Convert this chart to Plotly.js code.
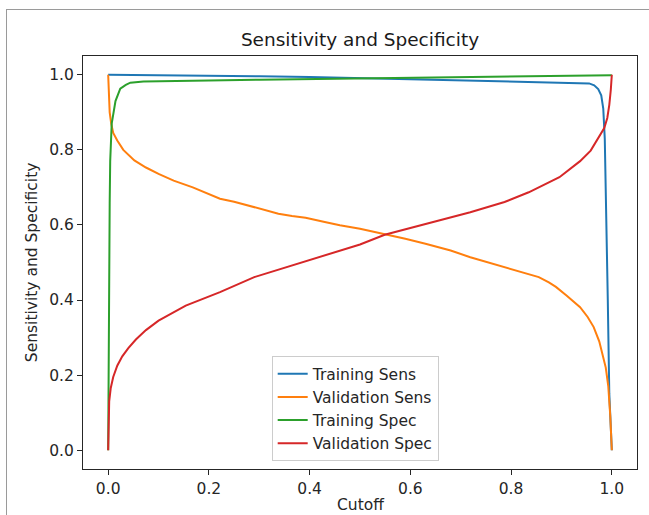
<!DOCTYPE html>
<html>
<head>
<meta charset="utf-8">
<script src="https://cdn.plot.ly/plotly-3.0.1.min.js"></script>
<style>
  html, body { margin: 0; padding: 0; background: #fff; }
  #wrap { position: relative; width: 649px; height: 515px; }
  #chart { width: 649px; height: 515px; }
  #frame { position: absolute; left: 6px; top: 9px; right: 0; bottom: 0;
           border-left: 1px solid #9a9a9a; border-top: 1px solid #9a9a9a;
           pointer-events: none; }
</style>
</head>
<body>
<div id="wrap"><div id="chart"></div><div id="frame"></div></div>
<script>
// Training sensitivity (blue)
const cutoffTrainSens = [0, 0.1, 0.2, 0.3, 0.4, 0.5, 0.6, 0.7, 0.8, 0.9, 0.94, 0.955, 0.965, 0.973, 0.979, 0.983, 0.986, 0.989, 0.992, 0.995, 1.0];
const trainSens       = [1.0, 0.999, 0.998, 0.996, 0.994, 0.991, 0.988, 0.985, 0.982, 0.980, 0.979, 0.977, 0.972, 0.962, 0.945, 0.91, 0.83, 0.65, 0.40, 0.15, 0.0];

// Validation sensitivity (orange)
const cutoffValSens = [0, 0.001, 0.003, 0.006, 0.01, 0.018, 0.03, 0.052, 0.075, 0.1, 0.13, 0.168, 0.2, 0.222, 0.25, 0.277, 0.31, 0.338, 0.365, 0.392, 0.43, 0.46, 0.5, 0.549, 0.59, 0.63, 0.68, 0.719, 0.75, 0.787, 0.82, 0.855, 0.875, 0.889, 0.91, 0.937, 0.952, 0.964, 0.975, 0.981, 0.988, 0.993, 0.997, 1.0];
const valSens       = [1.0, 0.95, 0.9, 0.87, 0.845, 0.825, 0.80, 0.772, 0.753, 0.736, 0.718, 0.70, 0.683, 0.670, 0.662, 0.652, 0.641, 0.630, 0.624, 0.619, 0.608, 0.599, 0.590, 0.576, 0.563, 0.550, 0.532, 0.514, 0.502, 0.487, 0.475, 0.461, 0.447, 0.435, 0.412, 0.381, 0.355, 0.328, 0.29, 0.257, 0.22, 0.17, 0.09, 0.0];

// Training specificity (green)
const cutoffTrainSpec = [0, 0.0005, 0.001, 0.0015, 0.002, 0.003, 0.004, 0.007, 0.0145, 0.024, 0.035, 0.044, 0.07, 0.1, 0.2, 0.3, 0.4, 0.5, 0.6, 0.7, 0.8, 0.9, 1.0];
const trainSpec       = [0, 0.2, 0.38, 0.5, 0.58, 0.66, 0.77, 0.87, 0.93, 0.963, 0.973, 0.979, 0.982, 0.983, 0.985, 0.987, 0.989, 0.991, 0.993, 0.995, 0.996, 0.997, 0.999];

// Validation specificity (red)
const cutoffValSpec = [0, 0.0007, 0.002, 0.005, 0.01, 0.018, 0.028, 0.04, 0.055, 0.075, 0.1, 0.154, 0.222, 0.29, 0.365, 0.447, 0.5, 0.549, 0.63, 0.719, 0.787, 0.835, 0.896, 0.937, 0.958, 0.977, 0.985, 0.991, 0.995, 0.998, 1.0];
const valSpec       = [0, 0.09, 0.13, 0.165, 0.195, 0.225, 0.25, 0.272, 0.295, 0.32, 0.345, 0.385, 0.421, 0.461, 0.492, 0.527, 0.548, 0.574, 0.603, 0.634, 0.661, 0.687, 0.727, 0.770, 0.798, 0.838, 0.858, 0.885, 0.92, 0.96, 1.0];

const seriesNames = ["Training Sens", "Validation Sens", "Training Spec", "Validation Spec"];
const tickVals = [0, 0.2, 0.4, 0.6, 0.8, 1.0];

const colors = ["#1f77b4", "#ff7f0e", "#2ca02c", "#d62728"];
const xs = [cutoffTrainSens, cutoffValSens, cutoffTrainSpec, cutoffValSpec];
const ys = [trainSens, valSens, trainSpec, valSpec];

const traces = seriesNames.map((n, i) => ({
  x: xs[i], y: ys[i], name: n, type: "scatter", mode: "lines",
  line: { color: colors[i], width: 2 }
}));

const fontFam = "DejaVu Sans, sans-serif";
const fs = 15.5;
const axisCommon = {
  showline: true, mirror: true, linecolor: "#262626", linewidth: 1,
  showgrid: false, zeroline: false,
  ticks: "outside", ticklen: 5, tickwidth: 1, tickcolor: "#262626",
  tickvals: tickVals, tickformat: ".1f",
  tickfont: { family: fontFam, size: fs, color: "#262626" }
};

const layout = {
  width: 649, height: 515,
  margin: { l: 83, r: 12, t: 56, b: 46 },
  paper_bgcolor: "#fff", plot_bgcolor: "#fff",
  font: { family: fontFam, color: "#262626" },
  title: { text: "Sensitivity and Specificity", x: 0.5, xref: "paper",
           y: 1 - 39.5 / 515, yref: "container", yanchor: "middle",
           font: { family: fontFam, size: 18.5, color: "#1a1a1a" } },
  xaxis: Object.assign({}, axisCommon, { range: [-0.05, 1.05] }),
  yaxis: Object.assign({}, axisCommon, { range: [-0.05, 1.05] }),
  showlegend: true,
  legend: { x: 0.3406, y: 0.019, xanchor: "left", yanchor: "bottom",
            bgcolor: "rgba(255,255,255,0.8)", bordercolor: "#cccccc", borderwidth: 1,
            font: { family: fontFam, size: fs, color: "#262626" },
            tracegroupgap: 0, itemwidth: 30 },
  annotations: [
    { text: "Cutoff", xref: "paper", yref: "paper", x: 0.5, y: -0.087,
      xanchor: "center", yanchor: "middle", showarrow: false,
      font: { family: fontFam, size: fs, color: "#262626" } },
    { text: "Sensitivity and Specificity", xref: "paper", yref: "paper",
      x: -0.0926, y: 0.5, xanchor: "center", yanchor: "middle", textangle: -90,
      showarrow: false, font: { family: fontFam, size: fs, color: "#262626" } }
  ]
};

Plotly.newPlot("chart", traces, layout, { displayModeBar: false, staticPlot: true });
</script>
</body>
</html>
